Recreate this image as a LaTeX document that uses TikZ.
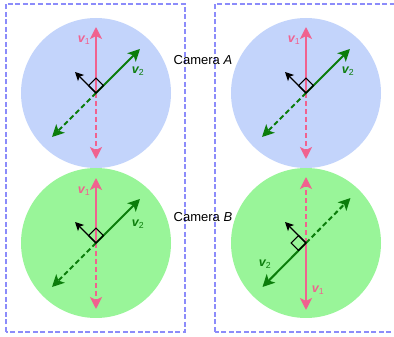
\documentclass[tikz,border=0pt]{standalone}
\usepackage{fontspec}
\setmainfont{Liberation Sans}
\usetikzlibrary{arrows.meta,calc}
\definecolor{framecol}{HTML}{8C8CFA}
\definecolor{skyfill}{HTML}{C3D4FB}
\definecolor{mintfill}{HTML}{99F599}
\definecolor{pinkvec}{HTML}{F0628F}
\definecolor{greenvec}{HTML}{0B7D0B}

\begin{document}
\begin{tikzpicture}[x=1pt,y=1pt,
  disc/.style={circle,minimum size=150pt,inner sep=0pt},
  frame/.style={framecol,line width=1.9pt,dash pattern=on 5pt off 2.5pt},
  vone/.style={-{Stealth[length=12pt,width=12pt,inset=3pt]},line width=2pt,pinkvec},
  vtwo/.style={-{Stealth[length=12pt,width=12pt,inset=3pt]},line width=2pt,greenvec},
  hidden/.style={dash pattern=on 5pt off 3pt},
  normal/.style={-{Stealth[length=8.5pt,width=8.5pt,inset=2pt]},line width=1.4pt,black},
  corner/.style={line width=1.1pt,black},
  lbl/.style={font=\fontsize{12.5}{14}\selectfont\bfseries\itshape,inner sep=0pt}]
  \useasboundingbox (0,0) rectangle (394,337);
  \begin{scope}
    \clip (0,0) rectangle (394,337);
    \draw[frame] (6,5) rectangle (185,333);
    \draw[frame] (215,5) rectangle (410,333);
  \end{scope}

  % four views
  \node[disc,fill=skyfill] (aL) at (96,244) {};
  \node[disc,fill=mintfill] (bL) at (96,94) {};
  \node[disc,fill=skyfill] (aR) at (306,244) {};
  \node[disc,fill=mintfill] (bR) at (306,94) {};

  \node[font=\fontsize{13}{15}\selectfont] (camA) at (203,277) {Camera \textit{A}};
  \node[font=\fontsize{13}{15}\selectfont] (camB) at (203,120) {Camera \textit{B}};

  % camera A, left
  \coordinate (aLup) at ($(aL.center)+(0,66)$);
  \coordinate (aLdn) at ($(aL.center)+(0,-66)$);
  \coordinate (aLne) at ($(aL.center)+(44,44)$);
  \coordinate (aLsw) at ($(aL.center)+(-44,-44)$);
  \coordinate (aLnw) at ($(aL.center)+(-21,21)$);
  \draw[vone] (aL.center) -- (aLup);
  \draw[vone,hidden] (aL.center) -- (aLdn);
  \draw[vtwo] (aL.center) -- (aLne);
  \draw[vtwo,hidden] (aL.center) -- (aLsw);
  \draw[normal] (aL.center) -- (aLnw);
  \draw[corner] (aL.center) -- ++(45:10.5) -- ++(135:10.5) -- ++(225:10.5) -- cycle;
  \node[lbl,pinkvec] at ($(aL.center)+(-12,53)$) {v\textsubscript{\normalfont 1}};
  \node[lbl,greenvec] at ($(aL.center)+(42,22)$) {v\textsubscript{\normalfont 2}};

  % camera B, left
  \coordinate (bLup) at ($(bL.center)+(0,65)$);
  \coordinate (bLdn) at ($(bL.center)+(0,-66)$);
  \coordinate (bLne) at ($(bL.center)+(44,44)$);
  \coordinate (bLsw) at ($(bL.center)+(-44,-44)$);
  \coordinate (bLnw) at ($(bL.center)+(-21,21)$);
  \draw[vone] (bL.center) -- (bLup);
  \draw[vone,hidden] (bL.center) -- (bLdn);
  \draw[vtwo] (bL.center) -- (bLne);
  \draw[vtwo,hidden] (bL.center) -- (bLsw);
  \draw[normal] (bL.center) -- (bLnw);
  \draw[corner] (bL.center) -- ++(45:10.5) -- ++(135:10.5) -- ++(225:10.5) -- cycle;
  \node[lbl,pinkvec] at ($(bL.center)+(-12,52)$) {v\textsubscript{\normalfont 1}};
  \node[lbl,greenvec] at ($(bL.center)+(42,19)$) {v\textsubscript{\normalfont 2}};

  % camera A, right
  \coordinate (aRup) at ($(aR.center)+(0,66)$);
  \coordinate (aRdn) at ($(aR.center)+(0,-66)$);
  \coordinate (aRne) at ($(aR.center)+(44,44)$);
  \coordinate (aRsw) at ($(aR.center)+(-44,-44)$);
  \coordinate (aRnw) at ($(aR.center)+(-21,21)$);
  \draw[vone] (aR.center) -- (aRup);
  \draw[vone,hidden] (aR.center) -- (aRdn);
  \draw[vtwo] (aR.center) -- (aRne);
  \draw[vtwo,hidden] (aR.center) -- (aRsw);
  \draw[normal] (aR.center) -- (aRnw);
  \draw[corner] (aR.center) -- ++(45:10.5) -- ++(135:10.5) -- ++(225:10.5) -- cycle;
  \node[lbl,pinkvec] at ($(aR.center)+(-12,53)$) {v\textsubscript{\normalfont 1}};
  \node[lbl,greenvec] at ($(aR.center)+(42,22)$) {v\textsubscript{\normalfont 2}};

  % camera B, right (flipped)
  \coordinate (bRup) at ($(bR.center)+(0,66)$);
  \coordinate (bRdn) at ($(bR.center)+(0,-67)$);
  \coordinate (bRne) at ($(bR.center)+(44.5,45)$);
  \coordinate (bRsw) at ($(bR.center)+(-43.5,-44)$);
  \coordinate (bRnw) at ($(bR.center)+(-21,21)$);
  \draw[vone,hidden] (bR.center) -- (bRup);
  \draw[vone] (bR.center) -- (bRdn);
  \draw[vtwo,hidden] (bR.center) -- (bRne);
  \draw[vtwo] (bR.center) -- (bRsw);
  \draw[normal] (bR.center) -- (bRnw);
  \draw[corner] (bR.center) -- ++(135:10.5) -- ++(225:10.5) -- ++(315:10.5) -- cycle;
  \node[lbl,greenvec] at ($(bR.center)+(-41,-21)$) {v\textsubscript{\normalfont 2}};
  \node[lbl,pinkvec] at ($(bR.center)+(12,-47)$) {v\textsubscript{\normalfont 1}};
\end{tikzpicture}
\end{document}
